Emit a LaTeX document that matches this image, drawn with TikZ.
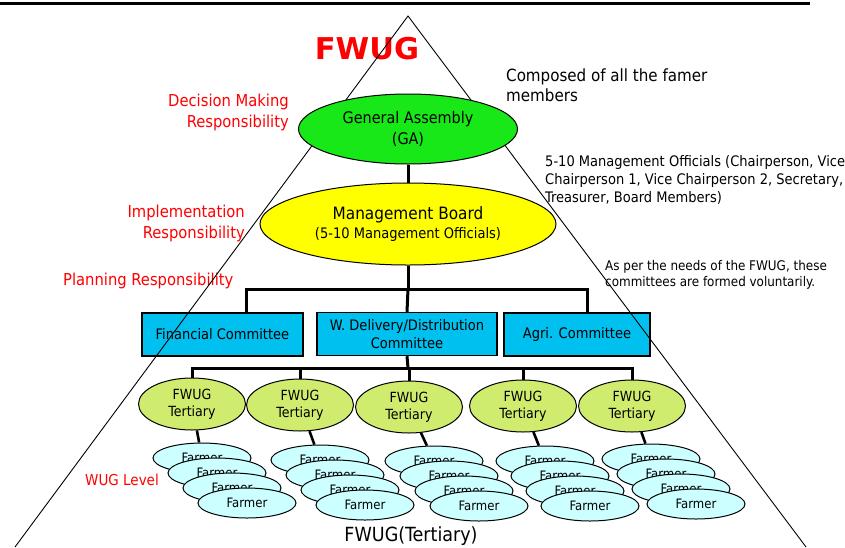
\documentclass[tikz,border=0pt]{standalone}
\usepackage{fontspec}
\setmainfont{DejaVu Sans Condensed}
\usetikzlibrary{shapes.geometric}
\definecolor{gagreen}{RGB}{24,232,24}
\definecolor{mbyellow}{RGB}{255,255,0}
\definecolor{boxblue}{RGB}{0,192,240}
\definecolor{tertgreen}{RGB}{208,236,110}
\definecolor{farmcyan}{RGB}{204,255,255}
\definecolor{redtxt}{RGB}{255,0,0}
\newcommand{\fs}[2]{\fontsize{#1}{#2}\selectfont}
\tikzset{
  ell/.style={ellipse, draw=black, line width=1pt, inner sep=0pt, align=center},
  gaell/.style={ell, fill=gagreen, minimum width=219pt, minimum height=70pt, font=\fs{16}{21}},
  mbell/.style={ell, fill=mbyellow, minimum width=296pt, minimum height=82pt},
  comm/.style={draw=black, line width=1.4pt, fill=boxblue, inner sep=0pt, align=center, minimum height=43pt, font=\fs{14.5}{17.5}},
  tert/.style={ell, fill=tertgreen, minimum width=107pt, minimum height=52pt, font=\fs{14}{17}},
  farm/.style={ell, fill=farmcyan, minimum width=98pt, minimum height=30pt, font=\fs{13}{15}},
  tree/.style={line width=3pt, black},
  redlbl/.style={inner sep=0pt, text=redtxt, font=\fs{16.4}{21}},
  blklbl/.style={inner sep=0pt, text=black, align=left},
  tri/.style={line width=0.9pt, black},
}
\begin{document}
\begin{tikzpicture}[x=1pt,y=-1pt]
\useasboundingbox (0,0) rectangle (845,547);
% top rule
\draw[line width=3pt] (0,3) -- (810,3);
% management board
\node[mbell] (mb) at (408,224) {\fs{17}{21}Management Board\\[3pt]\fs{14.5}{19}(5-10 Management Officials)};
% committees
\node[comm, minimum width=161pt] (b1) at (222.5,334.5) {Financial Committee};
\node[comm, minimum width=180pt] (b2) at (407,334) {W. Delivery/Distribution\\Committee};
\node[comm, minimum width=146pt] (b3) at (577,334.5) {Agri. Committee};
% tree lines
\coordinate (j1) at (408,289);
\coordinate (j2) at (408,368);
\draw[tree] (mb.south) -- (j1);
\draw[tree] ([xshift=23.5pt]b1.north) |- (j1) -| ([xshift=10pt]b3.north);
\draw[tree] (b2.north) -- (j1);
% tertiary
\node[tert] (t1) at (192,404) {FWUG\\Tertiary};
\node[tert] (t2) at (300,405) {FWUG\\Tertiary};
\node[tert] (t3) at (409,407) {FWUG\\Tertiary};
\node[tert] (t4) at (523,406) {FWUG\\Tertiary};
\node[tert] (t5) at (632,406) {FWUG\\Tertiary};
\draw[tree] (b2.south) -- (j2);
\draw[tree] (t1.north) |- (j2) -| (t5.north);
\draw[tree] (t2.north) -- (t2.north |- j2);
\draw[tree] (t3.north) -- (t3.north |- j2);
\draw[tree] (t4.north) -- (t4.north |- j2);
% farmer stacks
\foreach \i/\fx/\fy in {1/247/503, 2/365/505, 3/479/506, 4/590/506, 5/696/504}{
  \node[farm] (f\i a) at (\fx-45,\fy-45) {Farmer};
  \node[farm] (f\i b) at (\fx-30,\fy-30) {Farmer};
  \node[farm] (f\i c) at (\fx-15,\fy-15) {Farmer};
  \node[farm] (f\i d) at (\fx,\fy) {Farmer};
}
\draw[tree, line width=2.6pt] (t1) -- (f1a);
\draw[tree, line width=2.6pt] (t2) -- (f2a);
\draw[tree, line width=2.6pt] (t3) -- (f3a);
\draw[tree, line width=2.6pt] (t4) -- (f4a);
\draw[tree, line width=2.6pt] (t5) -- (f5a);
% labels
\node[redlbl, anchor=east, align=right] (dm) at (289,112) {Decision Making\\Responsibility};
\node[redlbl, anchor=east, align=right] (ir) at (245,223) {Implementation\\Responsibility};
\node[redlbl, anchor=west] (pr) at (63,281) {Planning Responsibility};
\node[redlbl, font=\fs{15}{18}] (wl) at (122,480) {WUG Level};
\node[blklbl, anchor=west, font=\fs{16.8}{20}] (cm) at (506,85) {Composed of all the famer\\members};
\node[blklbl, anchor=west, font=\fs{14.5}{18}] (mo) at (545,180) {5-10 Management Officials (Chairperson, Vice\\Chairperson 1, Vice Chairperson 2, Secretary,\\Treasurer, Board Members)};
\node[blklbl, anchor=west, font=\fs{13.3}{16}] (ap) at (605,275) {As per the needs of the FWUG, these\\committees are formed voluntarily.};
\node[inner sep=0pt, font=\fs{19.5}{20}] (ft) at (411,536) {FWUG(Tertiary)};
\node[inner sep=0pt, text=redtxt, font=\bfseries\fs{30}{30}] (title) at (367,48.5) {\scalebox{1.13}[1]{FWUG}};
% pyramid
\coordinate (apex) at (408,16);
\coordinate (bl) at (15,547);
\coordinate (br) at (806,547);
\draw[tri] (bl) -- (apex) -- (br);
% general assembly on top
\node[gaell] (ga) at (408,129) {General Assembly\\(GA)};
\draw[tree] (ga.south) -- (mb.north);
\end{tikzpicture}
\end{document}
